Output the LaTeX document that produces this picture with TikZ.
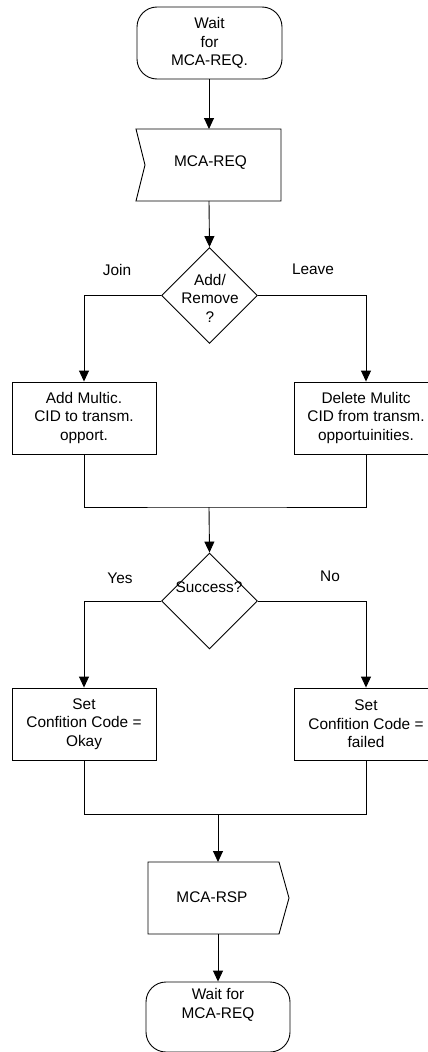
\documentclass[tikz,border=0pt]{standalone}
\usepackage{fontspec}
\setmainfont{Liberation Sans}
\usetikzlibrary{shapes.geometric,arrows.meta}
\begin{document}
\begin{tikzpicture}[x=1pt,y=-1pt,line width=0.9pt,
  every node/.style={font=\fontsize{15.4}{18.5}\selectfont, align=center, inner sep=0pt},
  procbox/.style={draw, minimum width=144pt, minimum height=72pt},
  termbox/.style={draw, rounded corners=20pt, minimum width=145pt},
  decision/.style={draw, diamond, aspect=1, minimum width=96pt, minimum height=96pt},
  arr/.style={-{Triangle[length=11pt,width=10pt]}},
  lbl/.style={}]
\useasboundingbox (0,0) rectangle (428,1052);

% start terminal
\node[termbox, minimum height=72pt] (start) at (209.5,43) {Wait\\for\\MCA-REQ.};

% receive signal MCA-REQ
\draw (136,129) -- (281,129) -- (281,201) -- (136,201) -- (145,165) -- cycle;
\node (req) at (210.5,163) {MCA-REQ};
\coordinate (reqtop) at (209,129);
\coordinate (reqbot) at (209,201);

% decision 1
\node[decision] (d1) at (209.5,295.5) {};
\node (d1t) at (210,298) {Add/\\Remove\\?};
\node[lbl] (join) at (117,270) {Join};
\node[lbl] (leave) at (313,269) {Leave};

% boxes
\node[procbox] (b1) at (84,418) {Add Multic.\\CID to transm.\\opport.};
\node[procbox] (b2) at (366,418) {Delete Mulitc\\CID from transm.\\opportuinities.};
\coordinate (m1) at (209,507);

% decision 2
\node[decision] (d2) at (209.5,601) {};
\node (d2t) at (209,587) {Success?};
\node[lbl] (yes) at (120,578) {Yes};
\node[lbl] (no) at (330,576) {No};

\node[procbox] (b3) at (84,724) {Set\\Confition Code =\\Okay};
\node[procbox] (b4) at (366,724) {Set\\Confition Code =\\failed};
\coordinate (m2) at (218,814);

% send signal MCA-RSP
\draw (148,862) -- (279,862) -- (289,898) -- (279,934) -- (148,934) -- cycle;
\node (rsp) at (212,897) {MCA-RSP};
\coordinate (rsptop) at (218,862);
\coordinate (rspbot) at (218,934);

% end terminal
\node[termbox, minimum width=144pt, minimum height=70pt] (endbox) at (218,1017) {};
\node (endt) at (218,1005) {Wait for\\MCA-REQ};

% connectors
\draw[arr] (start.south -| reqtop) -- (reqtop);
\draw[arr] (reqbot) -- (d1.north);
\draw[arr] (d1.west) -| (b1.north);
\draw[arr] (d1.east) -| (b2.north);
\draw (b1.south) |- (m1) -| (b2.south);
\draw[arr] (m1) -- (d2.north);
\draw[arr] (d2.west) -| (b3.north);
\draw[arr] (d2.east) -| (b4.north);
\draw (b3.south) |- (m2) -| (b4.south);
\draw[arr] (m2) -- (rsptop);
\draw[arr] (rspbot) -- (endbox.north);
\end{tikzpicture}
\end{document}
